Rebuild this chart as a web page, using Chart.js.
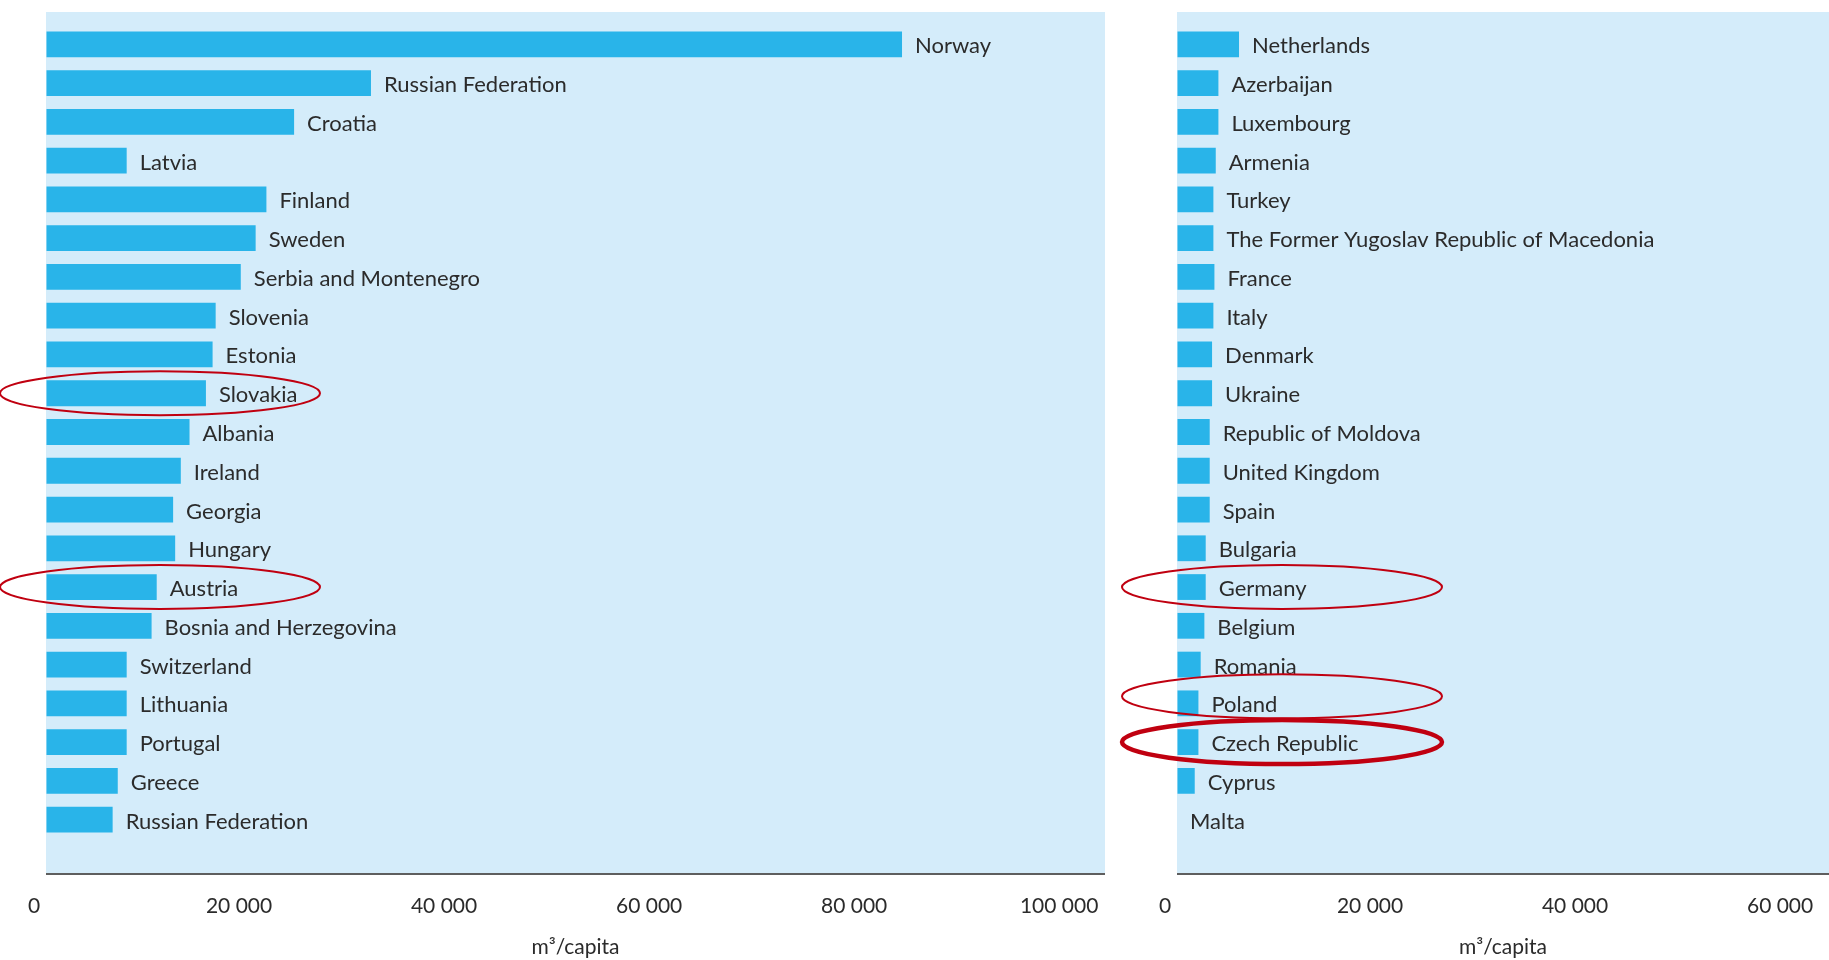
<!DOCTYPE html>
<html>
<head>
<meta charset="utf-8">
<script src="https://cdn.jsdelivr.net/npm/chart.js@4.4.1/dist/chart.umd.min.js"></script>
<style>
  html, body { margin: 0; padding: 0; background: #fff; }
  #wrap { position: relative; width: 1829px; height: 960px; overflow: hidden; }
  .panel { position: absolute; top: 0; height: 960px; }
  #left { left: 0; width: 1125px; }
  #right { left: 1110px; width: 719px; }
</style>
</head>
<body>
<div id="wrap">
  <div class="panel" id="left"><canvas id="chartLeft"></canvas></div>
  <div class="panel" id="right"><canvas id="chartRight"></canvas></div>
</div>
<script>
const countriesLeft = [
  'Norway', 'Russian Federation', 'Croatia', 'Latvia', 'Finland', 'Sweden',
  'Serbia and Montenegro', 'Slovenia', 'Estonia', 'Slovakia', 'Albania', 'Ireland',
  'Georgia', 'Hungary', 'Austria', 'Bosnia and Herzegovina', 'Switzerland',
  'Lithuania', 'Portugal', 'Greece', 'Russian Federation'
];
const valuesLeft = [
  83500, 31700, 24200, 7870, 21500, 20450,
  19000, 16550, 16250, 15600, 14000, 13150,
  12400, 12600, 10800, 10300, 7870,
  7870, 7870, 7000, 6500
];

const countriesRight = [
  'Netherlands', 'Azerbaijan', 'Luxembourg', 'Armenia', 'Turkey',
  'The Former Yugoslav Republic of Macedonia', 'France', 'Italy', 'Denmark', 'Ukraine',
  'Republic of Moldova', 'United Kingdom', 'Spain', 'Bulgaria', 'Germany',
  'Belgium', 'Romania', 'Poland', 'Czech Republic', 'Cyprus', 'Malta'
];
const valuesRight = [
  6050, 4040, 4040, 3780, 3550,
  3550, 3650, 3550, 3420, 3420,
  3190, 3190, 3190, 2800, 2800,
  2670, 2310, 2090, 2090, 1730, 0
];

const ticksLeft = [0, 20000, 40000, 60000, 80000, 100000];
const ticksRight = [0, 20000, 40000, 60000];

const highlightsLeft = ['Slovakia', 'Austria'];
const highlightsRight = ['Germany', 'Poland', 'Czech Republic'];

const textColor = '#2b2b2b';
const fontFamily = 'Lato';

function formatNumber(v) {
  return String(v).replace(/\B(?=(\d{3})+(?!\d))/g, ' ');
}

// light blue panel behind the bars plus the axis line under it
const backgroundPlugin = {
  id: 'panelBackground',
  beforeDraw(chart) {
    const { ctx, chartArea: a } = chart;
    const top = a.top - 13;
    const bottom = a.bottom + 35;
    ctx.save();
    ctx.fillStyle = '#d4ecfa';
    ctx.fillRect(a.left, top, a.right - a.left, bottom - top);
    ctx.strokeStyle = '#5e5e5e';
    ctx.lineWidth = 2;
    ctx.beginPath();
    ctx.moveTo(a.left, bottom);
    ctx.lineTo(a.right, bottom);
    ctx.stroke();
    ctx.restore();
  }
};

// country name written right after each bar
const barLabelsPlugin = {
  id: 'barLabels',
  afterDatasetsDraw(chart) {
    const { ctx } = chart;
    const meta = chart.getDatasetMeta(0);
    const labels = chart.data.labels;
    ctx.save();
    ctx.font = '22px ' + fontFamily;
    ctx.fillStyle = textColor;
    ctx.textAlign = 'left';
    ctx.textBaseline = 'alphabetic';
    meta.data.forEach((bar, i) => {
      ctx.fillText(labels[i], bar.x + 13, bar.y + 9);
    });
    ctx.restore();
  }
};

// red ellipses drawn around some countries
const ellipsePlugin = {
  id: 'ellipses',
  afterDraw(chart, args, opts) {
    const { ctx, chartArea: a } = chart;
    const meta = chart.getDatasetMeta(0);
    const labels = chart.data.labels;
    ctx.save();
    ctx.strokeStyle = '#c00010';
    (opts.items || []).forEach(item => {
      const i = labels.indexOf(item.name);
      if (i < 0) return;
      const bar = meta.data[i];
      ctx.lineWidth = item.thick ? 4.5 : 2;
      ctx.beginPath();
      ctx.ellipse(a.left + opts.dx, bar.y + (item.dy || 0), 160, 22, 0, 0, Math.PI * 2);
      ctx.stroke();
    });
    ctx.restore();
  }
};

function createChart(canvasId, labels, values, max, tickValues, ellipses, padLeft, padRight) {
  const ctx = document.getElementById(canvasId).getContext('2d');
  return new Chart(ctx, {
    type: 'bar',
    data: {
      labels: labels,
      datasets: [{
        data: values,
        backgroundColor: '#29b4e9',
        borderWidth: 0,
        barPercentage: 0.665,
        categoryPercentage: 1
      }]
    },
    options: {
      indexAxis: 'y',
      responsive: true,
      maintainAspectRatio: false,
      animation: false,
      layout: { padding: { top: 25, left: padLeft, right: padRight, bottom: 0 } },
      plugins: {
        legend: { display: false },
        tooltip: { enabled: false },
        ellipses: ellipses
      },
      scales: {
        y: { display: false },
        x: {
          min: 0,
          max: max,
          grid: {
            display: true,
            drawOnChartArea: false,
            drawTicks: true,
            tickLength: 52,
            color: 'rgba(0,0,0,0)'
          },
          border: { display: false },
          afterBuildTicks: axis => { axis.ticks = tickValues.map(v => ({ value: v })); },
          afterFit: axis => { axis.height = 121; },
          ticks: {
            padding: 3,
            labelOffset: -12,
            color: textColor,
            font: { family: fontFamily, size: 21 },
            callback: v => formatNumber(v)
          },
          title: {
            display: true,
            text: 'm³/capita',
            color: textColor,
            font: { family: fontFamily, size: 21 },
            padding: { top: 0, bottom: 0 }
          }
        }
      }
    },
    plugins: [backgroundPlugin, barLabelsPlugin, ellipsePlugin]
  });
}

createChart('chartLeft', countriesLeft, valuesLeft, 103300, ticksLeft,
  { dx: 114, items: highlightsLeft.map(n => ({ name: n })) }, 46, 20);

createChart('chartRight', countriesRight, valuesRight, 63600, ticksRight,
  { dx: 105, items: highlightsRight.map(n => ({
      name: n,
      dy: n === 'Poland' ? -7 : 0,
      thick: n === 'Czech Republic'
    })) }, 67, 0);
</script>
</body>
</html>
